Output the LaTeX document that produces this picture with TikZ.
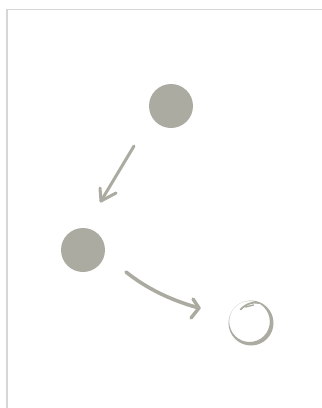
\documentclass[tikz,border=0pt]{standalone}
\begin{document}
\begin{tikzpicture}[x=1pt,y=-1pt,
  ink/.style={draw=inkc,line cap=round,line join=round},
  dot/.style={circle,fill=inkc,minimum size=44pt,inner sep=0pt},
  frame/.style={draw=framec,line width=1.6pt}]
\definecolor{inkc}{RGB}{172,171,161}
\definecolor{framec}{RGB}{214,214,214}
\useasboundingbox (0,0) rectangle (322,408);
\fill[white] (0,0) rectangle (322,408);
\draw[frame] (7,408) -- (7,9.5) -- (322,9.5);
\node[dot] (top) at (171,106) {};
\node[dot] (left) at (83,250) {};
\coordinate (ring) at (251,323);
% arrow 1
\coordinate (a1s) at (134,146);
\coordinate (a1e) at (101,201);
\draw[ink,line width=3pt] (a1s) -- (a1e);
\draw[ink,line width=3pt] (100,188) -- (a1e) -- (116,193);
% arrow 2
\coordinate (a2s) at (126,272);
\coordinate (a2e) at (199,308);
\draw[ink,line width=3.6pt] (a2s) .. controls (146,288) and (170,300) .. (a2e);
\draw[ink,line width=3.4pt] (193,299) -- (a2e) -- (191,318);
% hand-drawn ring
\fill[inkc,even odd rule] (ring) ellipse[x radius=22.5pt,y radius=22.5pt,rotate=12]
  (249.5,321.5) ellipse[x radius=20.3pt,y radius=20.5pt,rotate=12];
\draw[ink,line width=1.8pt] (240.5,309.5) .. controls (246.5,303.5) and (253.5,301.5) .. (258.5,303);
\draw[ink,line width=1.4pt] (245.5,307) -- (253.5,305);
\end{tikzpicture}
\end{document}
